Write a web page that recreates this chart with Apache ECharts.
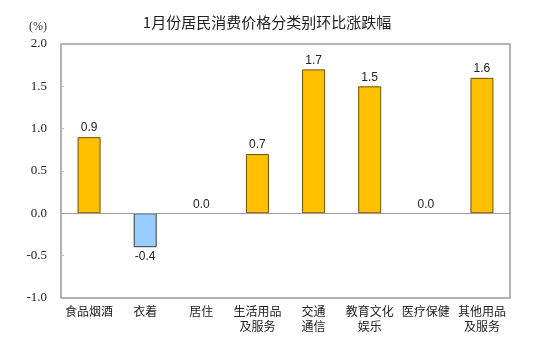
<!DOCTYPE html>
<html>
<head>
<meta charset="utf-8">
<script src="https://cdn.jsdelivr.net/npm/echarts@6/dist/echarts.min.js"></script>
<style>
  html, body { margin: 0; padding: 0; background: #fff; }
  #chart { width: 534px; height: 348px; }
</style>
</head>
<body>
<div id="chart"></div>
<script>
// Month-on-month change of CPI by category, January
const categories = ['食品烟酒', '衣着', '居住', '生活用品\n及服务', '交通\n通信', '教育文化\n娱乐', '医疗保健', '其他用品\n及服务'];
const values = [0.9, -0.4, 0.0, 0.7, 1.7, 1.5, 0.0, 1.6];
const yTicks = [-1.0, -0.5, 0.0, 0.5, 1.0, 1.5, 2.0];

const chart = echarts.init(document.getElementById('chart'));

const barData = values.map(v => ({
  value: v,
  itemStyle: {
    color: v < 0 ? '#99CCFF' : '#FFC000',
    borderColor: v < 0 ? '#3a3a3a' : '#6b5000',
    borderWidth: v === 0 ? 0 : 1
  },
  label: { position: v < 0 ? 'bottom' : 'top' }
}));

chart.setOption({
  animation: false,
  title: {
    text: '1月份居民消费价格分类别环比涨跌幅',
    left: 'center',
    top: 10,
    textStyle: { fontSize: 15, fontWeight: 'normal', color: '#222', fontFamily: 'Noto Sans CJK SC' }
  },
  graphic: [{
    type: 'text',
    left: 29,
    top: 21,
    style: { text: '(%)', fontSize: 12, fill: '#333', fontFamily: 'Liberation Serif' }
  }],
  grid: {
    left: 61, right: 24, top: 44, bottom: 50,
    show: true, borderColor: '#9a9a9a', borderWidth: 1.5, backgroundColor: 'transparent'
  },
  xAxis: {
    type: 'category',
    data: categories,
    axisLine: { show: false },
    axisTick: { show: false },
    axisLabel: {
      interval: 0,
      margin: 6,
      fontSize: 12,
      lineHeight: 15,
      color: '#222',
      fontFamily: 'Noto Sans CJK SC'
    }
  },
  yAxis: {
    type: 'value',
    min: yTicks[0],
    max: yTicks[yTicks.length - 1],
    interval: 0.5,
    axisLine: { show: false },
    axisTick: { show: true, inside: true, length: 3, lineStyle: { color: '#bbb' } },
    splitLine: { show: false },
    axisLabel: {
      margin: 14,
      fontSize: 13,
      color: '#222',
      fontFamily: 'Liberation Serif',
      formatter: v => v.toFixed(1)
    }
  },
  series: [{
    type: 'bar',
    data: barData,
    barWidth: 23,
    label: {
      show: true,
      fontSize: 12,
      color: '#222',
      distance: 3,
      fontFamily: 'Liberation Sans',
      formatter: p => p.value.toFixed(1)
    },
    markLine: {
      silent: true,
      symbol: 'none',
      label: { show: false },
      lineStyle: { color: '#9a9a9a', type: 'solid', width: 1.2 },
      data: [{ yAxis: 0 }]
    }
  }]
});
</script>
</body>
</html>
